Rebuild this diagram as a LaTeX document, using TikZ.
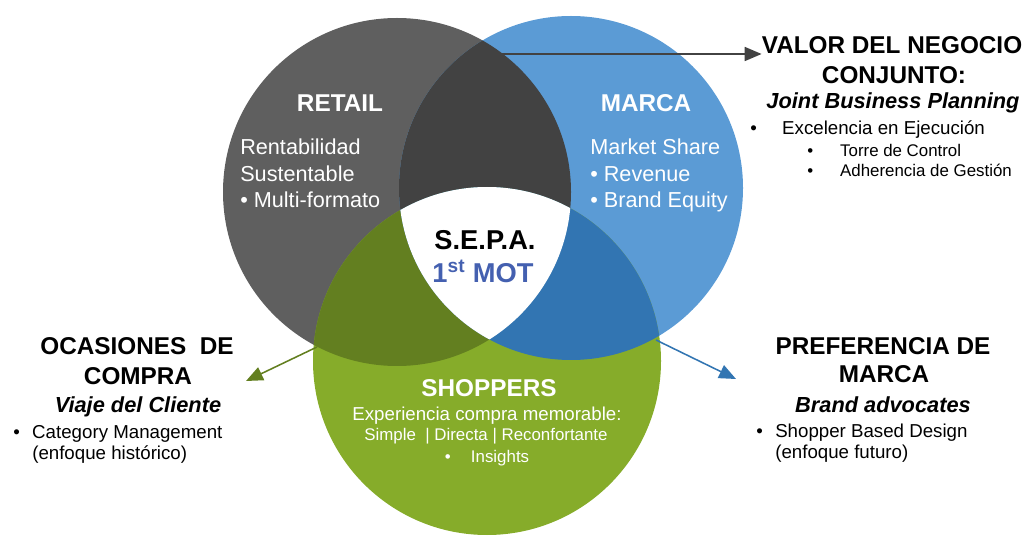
\documentclass[tikz,border=0pt]{standalone}
\usepackage{fontspec}
\setmainfont{Liberation Sans}
\usetikzlibrary{arrows.meta}
\definecolor{grisretail}{RGB}{95,95,95}
\definecolor{grisoscuro}{RGB}{66,66,66}
\definecolor{azulmarca}{RGB}{91,155,213}
\definecolor{azuloscuro}{RGB}{50,117,178}
\definecolor{verdeshop}{RGB}{134,172,42}
\definecolor{verdeoscuro}{RGB}{99,127,32}
\definecolor{azulmot}{RGB}{68,96,176}
\tikzset{
  titulo/.style={font=\fontsize{17.3}{20}\selectfont\bfseries,inner sep=0pt,anchor=base},
  subtitulo/.style={font=\fontsize{15.5}{18}\selectfont\bfseries\itshape,inner sep=0pt,anchor=base},
  circtxt/.style={font=\fontsize{15.4}{18.55}\selectfont,text=white,align=left,inner sep=0pt,anchor=north west},
  lista/.style={font=\fontsize{13.3}{16}\selectfont,inner sep=0pt,anchor=base west},
  sublista/.style={font=\fontsize{12}{14}\selectfont,inner sep=0pt,anchor=base west},
  flecha/.style={line width=1.1pt,-{Triangle[length=12pt,width=10pt]}}
}
\newcommand{\circretail}{(397,192) circle (174)}
\newcommand{\circmarca}{(571,188) circle (172)}
\newcommand{\circshop}{(487,361) circle (174)}
\begin{document}
\begin{tikzpicture}[x=0.25mm,y=-0.25mm]
\useasboundingbox (0,0) rectangle (1026,536);
% los tres circulos
\fill[grisretail] \circretail;
\fill[azulmarca] \circmarca;
\fill[verdeshop] \circshop;
\begin{scope}
  \clip \circretail;
  \fill[grisoscuro] \circmarca;
  \fill[verdeoscuro] \circshop;
\end{scope}
\begin{scope}
  \clip \circmarca;
  \fill[azuloscuro] \circshop;
\end{scope}
\begin{scope}
  \clip \circretail;
  \clip \circmarca;
  \fill[white] \circshop;
\end{scope}
% textos dentro
\node[titulo,text=white] (retail) at (340,112) {RETAIL};
\node[circtxt] (retailtxt) at (240,139) {Rentabilidad\\Sustentable\\\textbullet{} Multi-formato};
\node[titulo,text=white] (marca) at (646,112) {MARCA};
\node[circtxt] (marcatxt) at (590,139) {Market Share\\\textbullet{} Revenue\\\textbullet{} Brand Equity};
\node[titulo,font=\fontsize{19.4}{22}\selectfont\bfseries] (sepa) at (485,250) {S.E.P.A.};
\node[titulo,font=\fontsize{19.4}{22}\selectfont\bfseries,text=azulmot] (mot) at (483,283) {1\textsuperscript{st} MOT};
\node[titulo,text=white] (shoppers) at (489,397) {SHOPPERS};
\node[titulo,font=\fontsize{13.3}{16}\selectfont,text=white] (shopexp) at (487,420) {Experiencia compra memorable:};
\node[titulo,font=\fontsize{12}{14}\selectfont,text=white] (shopsimple) at (486,440) {Simple \ | Directa | Reconfortante};
\node[titulo,font=\fontsize{12}{14}\selectfont,text=white] (shopins) at (487,462) {\textbullet\hspace{1.2em}Insights};
% valor del negocio
\node[titulo] (valor) at (892,54) {VALOR DEL NEGOCIO};
\node[titulo] (conjunto) at (894,84) {CONJUNTO:};
\node[subtitulo] (jbp) at (893,109) {Joint Business Planning};
\node[lista] (excel) at (750,135) {\makebox[22.7pt][l]{\textbullet}Excelencia en Ejecución};
\node[sublista] (torre) at (807,157) {\makebox[23.4pt][l]{\textbullet}Torre de Control};
\node[sublista] (adher) at (807,177) {\makebox[23.4pt][l]{\textbullet}Adherencia de Gestión};
% ocasiones de compra
\node[titulo] (ocasiones) at (137,355) {OCASIONES \ DE};
\node[titulo] (compra) at (138,385) {COMPRA};
\node[subtitulo] (viaje) at (138,412) {Viaje del Cliente};
\node[lista] (catman) at (13,438) {\makebox[13.5pt][l]{\textbullet}Category Management};
\node[lista] (historico) at (32,459) {(enfoque histórico)};
% preferencia de marca
\node[titulo] (preferencia) at (883,355) {PREFERENCIA DE};
\node[titulo] (marcapref) at (884,383) {MARCA};
\node[subtitulo] (advocates) at (883,412) {Brand advocates};
\node[lista] (sbd) at (756,437) {\makebox[13.5pt][l]{\textbullet}Shopper Based Design};
\node[lista] (futuro) at (775,458) {(enfoque futuro)};
% flechas
\coordinate (jbpini) at (498,54);
\coordinate (ocaini) at (317,347);
\coordinate (ocafin) at (246,381);
\coordinate (prefini) at (656,340);
\coordinate (preffin) at (736,379);
\draw[flecha,grisoscuro] (jbpini) -- (valor.base west);
\draw[flecha,verdeoscuro] (ocaini) -- (ocafin);
\draw[flecha,azuloscuro] (prefini) -- (preffin);
\end{tikzpicture}
\end{document}
